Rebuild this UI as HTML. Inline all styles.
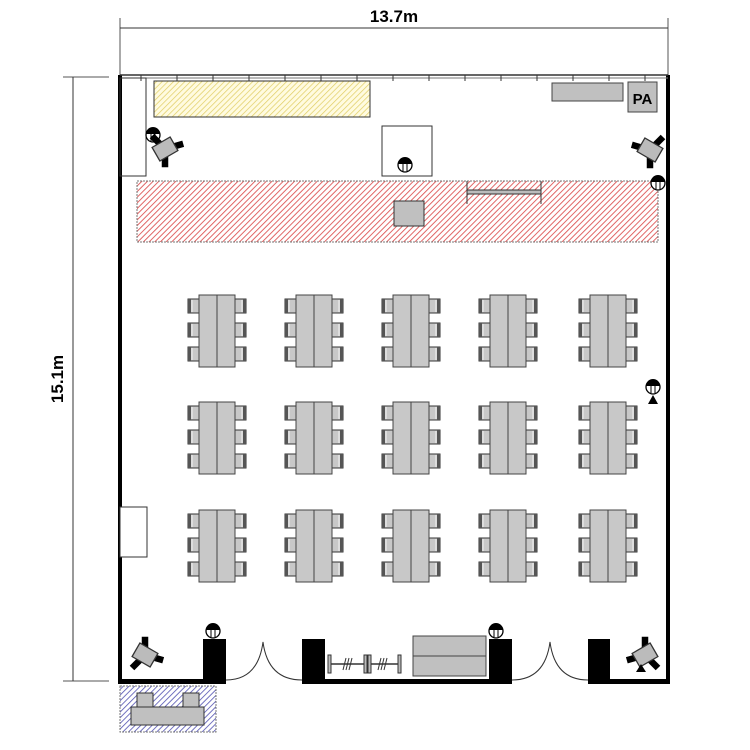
<!DOCTYPE html>
<html><head><meta charset="utf-8"><style>html,body{margin:0;padding:0;background:#fff}svg{display:block}</style></head>
<body>
<svg width="750" height="750" viewBox="0 0 750 750" xmlns="http://www.w3.org/2000/svg" font-family="Liberation Sans, sans-serif">
<defs>
<pattern id="hy" width="4" height="4" patternUnits="userSpaceOnUse" patternTransform="rotate(45)"><rect width="4" height="4" fill="#fffbe0"/><line x1="0" y1="0" x2="0" y2="4" stroke="#e0cc60" stroke-width="1.4"/></pattern>
<pattern id="hr" width="4" height="4" patternUnits="userSpaceOnUse" patternTransform="rotate(45)"><rect width="4" height="4" fill="#fff"/><line x1="0" y1="0" x2="0" y2="4" stroke="#dd5555" stroke-width="1.8"/></pattern>
<pattern id="hb" width="4" height="4" patternUnits="userSpaceOnUse" patternTransform="rotate(45)"><rect width="4" height="4" fill="#fff"/><line x1="0" y1="0" x2="0" y2="4" stroke="#5050b0" stroke-width="1.6"/></pattern>
<g id="chL"><rect x="0" y="0" width="11" height="14" fill="#c8c8c8" stroke="#333" stroke-width="1"/><rect x="0" y="0" width="3" height="14" fill="#555"/><rect x="3" y="1" width="2" height="12" fill="#ddd"/></g>
<g id="chR"><rect x="0" y="0" width="11" height="14" fill="#c8c8c8" stroke="#333" stroke-width="1"/><rect x="8" y="0" width="3" height="14" fill="#555"/><rect x="6" y="1" width="2" height="12" fill="#ddd"/></g>
<g id="grp">
<use href="#chL" x="-29" y="4"/><use href="#chL" x="-29" y="28"/><use href="#chL" x="-29" y="52"/>
<use href="#chR" x="18" y="4"/><use href="#chR" x="18" y="28"/><use href="#chR" x="18" y="52"/>
<rect x="-18" y="0" width="36" height="72" fill="#c8c8c8" stroke="#444" stroke-width="1"/>
<line x1="0" y1="0" x2="0" y2="72" stroke="#444" stroke-width="1"/>
</g>
<g id="mic"><circle cx="0" cy="0" r="7" fill="#fff" stroke="#000" stroke-width="1.3"/><path d="M-7 -1 A7 7 0 0 1 7 -1 Z" fill="#000"/><line x1="-2" y1="-1" x2="-2" y2="6" stroke="#000"/><line x1="2" y1="-1" x2="2" y2="6" stroke="#000"/></g>
<g id="cam"><g transform="scale(1.3)"><path d="M0 0 L-10 -10 M0 0 L14 -4 M0 0 L0 14" stroke="#000" stroke-width="5"/><rect x="-8" y="-6" width="16" height="12" fill="#bbb" stroke="#333" transform="rotate(-30)"/></g></g>
</defs>

<line x1="120" y1="18" x2="120" y2="75" stroke="#555"/>
<line x1="668" y1="18" x2="668" y2="75" stroke="#555"/>
<line x1="120" y1="28" x2="668" y2="28" stroke="#333"/>
<text x="394" y="22" font-size="17" font-weight="bold" text-anchor="middle">13.7m</text>
<line x1="63" y1="77" x2="109" y2="77" stroke="#555"/>
<line x1="63" y1="681" x2="109" y2="681" stroke="#555"/>
<line x1="73" y1="77" x2="73" y2="681" stroke="#333"/>
<text transform="translate(63,379) rotate(-90)" font-size="17" font-weight="bold" text-anchor="middle">15.1m</text>

<rect x="118" y="75" width="4" height="609" fill="#000"/>
<rect x="666" y="75" width="4" height="609" fill="#000"/>
<line x1="120" y1="75" x2="668" y2="75" stroke="#333" stroke-width="1.5"/>
<line x1="120" y1="78" x2="668" y2="78" stroke="#777" stroke-width="1"/>
<g stroke="#333" stroke-width="1">
<line x1="141" y1="75" x2="141" y2="81"/><line x1="177" y1="75" x2="177" y2="81"/><line x1="213" y1="75" x2="213" y2="81"/><line x1="249" y1="75" x2="249" y2="81"/><line x1="285" y1="75" x2="285" y2="81"/><line x1="321" y1="75" x2="321" y2="81"/><line x1="357" y1="75" x2="357" y2="81"/><line x1="393" y1="75" x2="393" y2="81"/><line x1="429" y1="75" x2="429" y2="81"/><line x1="465" y1="75" x2="465" y2="81"/><line x1="501" y1="75" x2="501" y2="81"/><line x1="537" y1="75" x2="537" y2="81"/><line x1="573" y1="75" x2="573" y2="81"/><line x1="609" y1="75" x2="609" y2="81"/><line x1="645" y1="75" x2="645" y2="81"/>
</g>
<rect x="118" y="679" width="107" height="5" fill="#000"/>
<rect x="302" y="679" width="210" height="5" fill="#000"/>
<rect x="588" y="679" width="82" height="5" fill="#000"/>
<rect x="203" y="639" width="23" height="45" fill="#000"/>
<rect x="302" y="639" width="23" height="45" fill="#000"/>
<rect x="489" y="639" width="23" height="45" fill="#000"/>
<rect x="588" y="639" width="22" height="45" fill="#000"/>
<g fill="none" stroke="#333" stroke-width="1">
<path d="M226 680 Q258 680 263 642 Q268 680 302 680"/>
<path d="M512 680 Q545 680 550 642 Q555 680 588 680"/>
</g>

<rect x="120" y="78" width="26" height="98" fill="none" stroke="#333"/>
<rect x="154" y="81" width="216" height="36" fill="url(#hy)" stroke="#333"/>
<rect x="137" y="181" width="521" height="61" fill="url(#hr)" stroke="#777" stroke-dasharray="2,1"/>
<rect x="394" y="201" width="30" height="25" fill="#c0c0c0" stroke="#333"/>
<rect x="382" y="126" width="50" height="50" fill="#fff" stroke="#333"/>
<use href="#mic" x="405" y="165"/>
<g stroke="#333"><line x1="467" y1="181" x2="467" y2="204"/><line x1="541" y1="181" x2="541" y2="204"/><rect x="467" y="190" width="74" height="4" fill="#bbb"/></g>
<rect x="552" y="83" width="71" height="18" fill="#c0c0c0" stroke="#444"/>
<rect x="628" y="82" width="29" height="30" fill="#c0c0c0" stroke="#444"/>
<text x="642.5" y="104" font-size="15" font-weight="bold" text-anchor="middle">PA</text>
<use href="#mic" x="153" y="135"/>
<use href="#cam" x="165" y="149"/>
<g transform="translate(650,150) scale(-1,1)"><use href="#cam"/></g>
<use href="#mic" x="658" y="183"/>

<use href="#grp" x="217" y="295"/><use href="#grp" x="314" y="295"/><use href="#grp" x="411" y="295"/><use href="#grp" x="508" y="295"/><use href="#grp" x="608" y="295"/>
<use href="#grp" x="217" y="402"/><use href="#grp" x="314" y="402"/><use href="#grp" x="411" y="402"/><use href="#grp" x="508" y="402"/><use href="#grp" x="608" y="402"/>
<use href="#grp" x="217" y="510"/><use href="#grp" x="314" y="510"/><use href="#grp" x="411" y="510"/><use href="#grp" x="508" y="510"/><use href="#grp" x="608" y="510"/>

<use href="#mic" x="653" y="387"/>
<path d="M648 404 L653 395 L658 404 Z" fill="#000"/>
<rect x="120" y="507" width="27" height="50" fill="#fff" stroke="#333"/>

<use href="#mic" x="213" y="631"/>
<use href="#mic" x="496" y="631"/>
<g transform="translate(145,655) rotate(180) scale(-1,1)"><use href="#cam"/></g>
<g transform="translate(645,655) rotate(180)"><use href="#cam"/></g>
<path d="M636 672 L641 664 L646 672 Z" fill="#000"/>
<rect x="413" y="636" width="73" height="40" fill="#c0c0c0" stroke="#444"/>
<line x1="413" y1="656" x2="486" y2="656" stroke="#444"/>
<g stroke="#333"><line x1="330" y1="664" x2="399" y2="664" stroke-width="1.5"/>
<rect x="328" y="655" width="3" height="18" fill="#bbb"/><rect x="364" y="655" width="3" height="18" fill="#bbb"/><rect x="368" y="655" width="3" height="18" fill="#bbb"/><rect x="398" y="655" width="3" height="18" fill="#bbb"/>
<path d="M343 670 L346 658 M346 670 L349 658 M349 670 L352 658 M378 670 L381 658 M381 670 L384 658 M384 670 L387 658"/></g>
<rect x="120" y="686" width="96" height="46" fill="url(#hb)" stroke="#777" stroke-dasharray="2,1"/>
<rect x="137" y="693" width="16" height="14" fill="#c0c0c0" stroke="#333"/>
<rect x="183" y="693" width="16" height="14" fill="#c0c0c0" stroke="#333"/>
<rect x="131" y="707" width="73" height="18" fill="#c0c0c0" stroke="#333"/>
</svg>
</body></html>
